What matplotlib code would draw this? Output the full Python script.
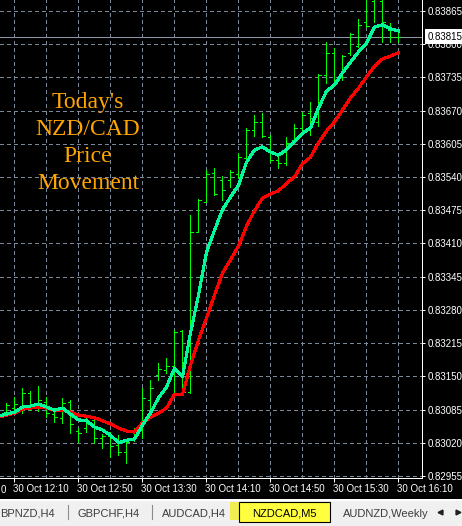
"""
NZDCAD M5 bar chart with two moving averages, MetaTrader look.
"""

import matplotlib.pyplot as plt
import numpy as np
from matplotlib.patches import Rectangle

plt.rcParams["font.family"] = ["Liberation Sans", "DejaVu Sans"]

# M5 bars from 30 Oct 11:55 to 16:10
opens = [0.83072, 0.83080, 0.83088, 0.83086, 0.83117, 0.83098, 0.83100, 0.83076, 0.83069, 0.83100,
         0.83043, 0.83049, 0.83065, 0.83029, 0.83033, 0.83016, 0.83002, 0.83025, 0.83045, 0.83104,
         0.83153, 0.83162, 0.83170, 0.83239, 0.83119, 0.83433, 0.83491, 0.83548, 0.83534, 0.83534,
         0.83546, 0.83577, 0.83632, 0.83648, 0.83618, 0.83573, 0.83568, 0.83613, 0.83636, 0.83665,
         0.83648, 0.83740, 0.83783, 0.83736, 0.83783, 0.83796, 0.83843, 0.83885, 0.83885, 0.83828,
         0.83814]
highs = [0.83084, 0.83098, 0.83110, 0.83127, 0.83121, 0.83131, 0.83110, 0.83084, 0.83108, 0.83104,
         0.83049, 0.83070, 0.83069, 0.83037, 0.83041, 0.83035, 0.83025, 0.83049, 0.83127, 0.83143,
         0.83176, 0.83186, 0.83241, 0.83241, 0.83466, 0.83497, 0.83554, 0.83558, 0.83542, 0.83554,
         0.83587, 0.83636, 0.83661, 0.83665, 0.83622, 0.83583, 0.83618, 0.83644, 0.83667, 0.83687,
         0.83742, 0.83804, 0.83793, 0.83779, 0.83822, 0.83849, 0.83896, 0.83902, 0.83892, 0.83842,
         0.83826]
lows = [0.83065, 0.83074, 0.83080, 0.83078, 0.83084, 0.83082, 0.83070, 0.83061, 0.83059, 0.83039,
        0.83022, 0.83041, 0.83020, 0.83010, 0.82992, 0.82996, 0.82980, 0.83023, 0.83029, 0.83084,
        0.83143, 0.83157, 0.83117, 0.83117, 0.83117, 0.83433, 0.83491, 0.83505, 0.83495, 0.83521,
        0.83538, 0.83577, 0.83620, 0.83618, 0.83569, 0.83558, 0.83564, 0.83613, 0.83628, 0.83622,
        0.83640, 0.83724, 0.83720, 0.83730, 0.83779, 0.83795, 0.83834, 0.83843, 0.83804, 0.83804,
        0.83804]
closes = [0.83076, 0.83094, 0.83096, 0.83117, 0.83096, 0.83104, 0.83078, 0.83070, 0.83098, 0.83057,
          0.83039, 0.83061, 0.83029, 0.83033, 0.83014, 0.83002, 0.83022, 0.83045, 0.83108, 0.83127,
          0.83164, 0.83170, 0.83237, 0.83119, 0.83433, 0.83495, 0.83546, 0.83507, 0.83515, 0.83550,
          0.83579, 0.83632, 0.83648, 0.83620, 0.83573, 0.83568, 0.83607, 0.83636, 0.83661, 0.83656,
          0.83740, 0.83783, 0.83726, 0.83777, 0.83820, 0.83838, 0.83836, 0.83890, 0.83843, 0.83814,
          0.83815]
fast_ma = [0.83072, 0.83076, 0.83080, 0.83090, 0.83092, 0.83096, 0.83090, 0.83084, 0.83088, 0.83076,
           0.83065, 0.83063, 0.83051, 0.83045, 0.83035, 0.83020, 0.83025, 0.83027, 0.83055, 0.83078,
           0.83108, 0.83129, 0.83166, 0.83149, 0.83235, 0.83309, 0.83393, 0.83436, 0.83476, 0.83501,
           0.83524, 0.83569, 0.83593, 0.83599, 0.83589, 0.83583, 0.83593, 0.83609, 0.83626, 0.83636,
           0.83675, 0.83708, 0.83720, 0.83744, 0.83765, 0.83785, 0.83802, 0.83834, 0.83838, 0.83830,
           0.83826]
slow_ma = [0.83070, 0.83074, 0.83078, 0.83086, 0.83088, 0.83090, 0.83088, 0.83084, 0.83084, 0.83080,
           0.83074, 0.83072, 0.83069, 0.83063, 0.83057, 0.83049, 0.83043, 0.83041, 0.83059, 0.83070,
           0.83078, 0.83088, 0.83115, 0.83115, 0.83172, 0.83221, 0.83264, 0.83309, 0.83352, 0.83378,
           0.83405, 0.83444, 0.83474, 0.83499, 0.83507, 0.83513, 0.83528, 0.83540, 0.83566, 0.83579,
           0.83607, 0.83630, 0.83648, 0.83671, 0.83695, 0.83714, 0.83736, 0.83757, 0.83771, 0.83777,
           0.83783]
last_price = 0.83815

price_ticks = [0.82955, 0.83020, 0.83085, 0.83150, 0.83215, 0.83280, 0.83345, 0.83410,
               0.83475, 0.83540, 0.83605, 0.83670, 0.83735, 0.83800, 0.83865]
# bar index of each time label (bar 0 = 11:55)
time_pos = [2, 10, 18, 26, 34, 42, 50]
time_labels = ["30 Oct 12:10", "30 Oct 12:50", "30 Oct 13:30",
               "30 Oct 14:10", "30 Oct 14:50", "30 Oct 15:30", "30 Oct 16:10"]
# what is left of the 11:30 label at the left edge
cut_label = "0"
tabs = ["BPNZD,H4", "GBPCHF,H4", "AUDCAD,H4", "NZDCAD,M5", "AUDNZD,Weekly"]

W, H = 462, 526
fig = plt.figure(figsize=(W / 100, H / 100), dpi=100, facecolor="black")
ax = fig.add_axes([0, 48 / H, 422 / W, 478 / H])
ax.set_facecolor("black")
ax.set_xlim(0.1875, 52.94)
ax.set_ylim(0.829511, 0.838865)

grid_kw = dict(color="#7a8796", lw=0.72, linestyle=(0, (4, 3)), antialiased=False, zorder=1)
for i in range(2, 53, 4):
    ax.axvline(i, **grid_kw)
for p in price_ticks:
    ax.axhline(p, **grid_kw)

ax.axhline(last_price, color="#8c96a4", lw=0.72, antialiased=False, zorder=1.5)

x = np.arange(len(closes))
bar_kw = dict(colors="#00ff00", lw=0.72, antialiased=False, zorder=2)
ax.vlines(x, lows, highs, **bar_kw)
ax.hlines(opens, x - 0.35, x, **bar_kw)
ax.hlines(closes, x, x + 0.35, **bar_kw)

ax.plot(x, slow_ma, color="#ff0000", lw=1.5, antialiased=False, zorder=3)
ax.plot(x, fast_ma, color="#00fa9a", lw=1.5, antialiased=False, zorder=3)

for s in ["top", "left"]:
    ax.spines[s].set_visible(False)
for s in ["right", "bottom"]:
    ax.spines[s].set_color("white")
    ax.spines[s].set_linewidth(0.72)

ax.yaxis.tick_right()
ax.set_yticks(price_ticks)
ax.set_yticklabels([f"{p:.5f}" for p in price_ticks])
ax.tick_params(axis="y", colors="white", length=2.2, width=0.72, pad=1.5, labelsize=7)
ax.set_xticks(time_pos)
ax.set_xticklabels([])
ax.tick_params(axis="x", colors="white", length=3, width=0.72)

for pos, lab in zip(time_pos, time_labels):
    ax.annotate(lab, xy=(pos, 0), xycoords=("data", "axes fraction"),
                xytext=(-1, -6), textcoords="offset pixels", ha="left", va="top",
                color="white", fontsize=7, annotation_clip=False)
fig.text(0.5 / W, 1 - 485 / H, cut_label, ha="left", va="top", color="white", fontsize=7)

ax.annotate(f"{last_price:.5f}", xy=(1, last_price), xycoords=("axes fraction", "data"),
            xytext=(6, 0), textcoords="offset pixels", ha="left", va="center",
            color="black", fontsize=7, annotation_clip=False, zorder=10,
            bbox=dict(boxstyle="square,pad=0.3", fc="white", ec="none"))

for txt, yb in zip(["Today's", "NZD/CAD", "Price", "Movement"], [108, 135, 162, 189]):
    fig.text(88 / W, 1 - yb / H, txt, ha="center", va="baseline", color="#ffa500",
             fontsize=17, family="Liberation Serif")

# tab bar
tb = fig.add_axes([0, 0, 1, 27 / H])
tb.set_xlim(0, W)
tb.set_ylim(H, H - 27)
tb.axis("off")
tb.add_patch(Rectangle((0, H - 27), W, 27, fc="#f0f0f0", ec="none"))
tb.add_patch(Rectangle((0, H - 27), W, 2, fc="white", ec="none"))
tb.add_patch(Rectangle((230, 502), 9, 18, fc="#f2ee50", ec="none"))
tb.add_patch(Rectangle((239, 502), 91, 20, fc="#ffff40", ec="black", lw=0.8))
for sx in [68, 152]:
    tb.plot([sx, sx], [505, 519], color="#8c8c8c", lw=0.8)
tab_x = [0.5, 77, 162, 252, 343]
for t, tx in zip(tabs, tab_x):
    tb.text(tx, 517, t, ha="left", va="baseline", fontsize=8,
            color="black" if t == "NZDCAD,M5" else "#3c3c3c")
tb.plot([440], [512], marker="<", ms=3.5, color="#202020")
tb.plot([458], [512], marker=">", ms=3.5, color="#202020")

fig.savefig("out.png", dpi=100, facecolor="black")
